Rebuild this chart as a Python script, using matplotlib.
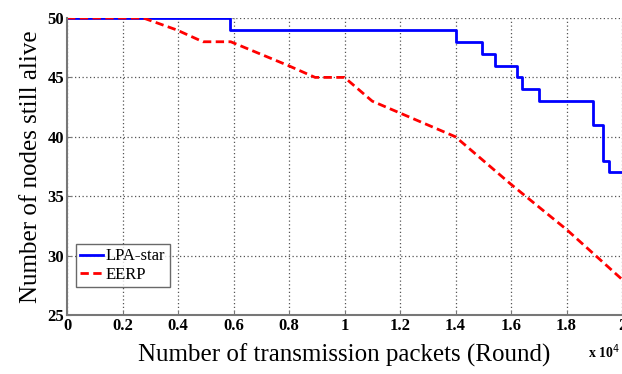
import matplotlib.pyplot as plt
import numpy as np
from matplotlib.ticker import FuncFormatter

# x in units of 10^4 rounds
lpa_x = [0, 0.587, 0.587, 1.40, 1.40, 1.495, 1.495, 1.542, 1.542, 1.62, 1.62, 1.638, 1.638, 1.70, 1.70, 1.894, 1.894, 1.932, 1.932, 1.953, 1.953, 2.0]
lpa_y = [50, 50, 49, 49, 48, 48, 47, 47, 46, 46, 45, 45, 44, 44, 43, 43, 41, 41, 38, 38, 37, 37]

eerp_x = [0, 0.275, 0.395, 0.49, 0.59, 0.797, 0.894, 1.0, 1.10, 1.40, 1.45, 1.60, 1.80, 2.0]
eerp_y = [50, 50, 49, 48, 48, 46, 45, 45, 43, 40, 39, 36, 32.2, 28]

xticks = [0, 0.2, 0.4, 0.6, 0.8, 1.0, 1.2, 1.4, 1.6, 1.8, 2.0]
yticks = [25, 30, 35, 40, 45, 50]

plt.rcParams['font.family'] = ['Liberation Serif', 'DejaVu Serif']

fig = plt.figure(figsize=(6.22, 3.74), dpi=100)
ax = fig.add_axes([67/622, 59/374, 555/622, 297/374])

ax.plot(lpa_x, lpa_y, color='#0000ff', lw=2.0, label='LPA-star')
ax.plot(eerp_x, eerp_y, color='#ff0000', lw=2.0, ls=(0, (3, 1.6)), label='EERP')

ax.set_xlim(0, 2)
ax.set_ylim(25, 50)
ax.set_xticks(xticks)
ax.set_yticks(yticks)
ax.xaxis.set_major_formatter(FuncFormatter(lambda v, p: '%g' % v))
ax.grid(True, color='#555555', ls=(0, (1, 2)), lw=0.9)
ax.set_axisbelow(True)

for s in ['top', 'right']:
    ax.spines[s].set_visible(False)
for s in ['left', 'bottom']:
    ax.spines[s].set_color('#777777')
    ax.spines[s].set_linewidth(1.5)

ax.tick_params(direction='in', length=3, labelsize=12, pad=2, color='#777777')
for lab in ax.get_xticklabels() + ax.get_yticklabels():
    lab.set_fontweight('bold')

ax.set_xlabel('Number of transmission packets (Round)', fontsize=18, labelpad=7)
ax.set_ylabel('Number of nodes still alive', fontsize=18, labelpad=4)

fig.text(588/622, 1 - 352/374, r'x 10$^4$', fontsize=10, fontweight='bold', va='center')

leg = ax.legend(loc='lower left', bbox_to_anchor=(0.016, 0.094), fontsize=12,
                frameon=True, fancybox=False, edgecolor='#444444',
                handlelength=1.35, handletextpad=0.2, borderpad=0.25,
                labelspacing=0.15, borderaxespad=0)
leg.get_frame().set_linewidth(1.0)

fig.savefig('out.png', dpi=100)
